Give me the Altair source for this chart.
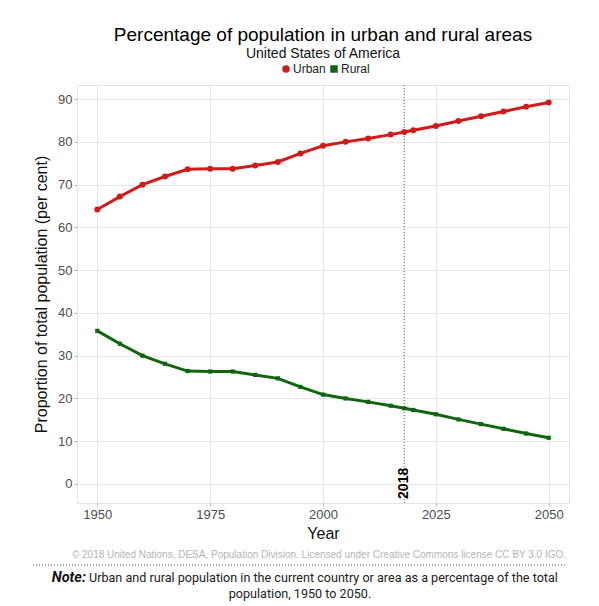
import altair as alt
import pandas as pd

years = [1950, 1955, 1960, 1965, 1970, 1975, 1980, 1985, 1990, 1995, 2000,
         2005, 2010, 2015, 2018, 2020, 2025, 2030, 2035, 2040, 2045, 2050]
urban = [64.2, 67.2, 70.0, 71.9, 73.6, 73.7, 73.7, 74.5, 75.3, 77.3, 79.1,
         80.0, 80.8, 81.7, 82.3, 82.7, 83.7, 84.9, 86.0, 87.1, 88.2, 89.2]
rural = [35.8, 32.8, 30.0, 28.1, 26.4, 26.3, 26.3, 25.5, 24.7, 22.7, 20.9,
         20.0, 19.2, 18.3, 17.7, 17.3, 16.3, 15.1, 14.0, 12.9, 11.8, 10.8]
series = ["Urban", "Rural"]
colors = ["#d11a1a", "#0f660f"]
x_ticks = [1950, 1975, 2000, 2025, 2050]
y_ticks = [0, 10, 20, 30, 40, 50, 60, 70, 80, 90]
mark_year = [2018]

rows = []
for y, u, r in zip(years, urban, rural):
    rows.append({"Year": y, "Value": u, "Series": "Urban", "Size": 36})
    rows.append({"Year": y, "Value": r, "Series": "Rural", "Size": 18})
df = pd.DataFrame(rows)

FONT = "Liberation Sans"
xscale = alt.Scale(domain=[1945.5, 2054.5], nice=False, zero=False)
yscale = alt.Scale(domain=[-4.45, 93.3], nice=False, zero=False)
cscale = alt.Scale(domain=series, range=colors)

legend = alt.Legend(title=None, orient="none", direction="horizontal",
                    legendX=203, legendY=-22, labelFontSize=12,
                    labelFont=FONT, labelColor="#222", symbolSize=36,
                    columnPadding=2, labelOffset=1)

base = alt.Chart(df)
x = alt.X("Year:Q", scale=xscale,
          axis=alt.Axis(values=x_ticks, format="d", title="Year", titleFontSize=16,
                        titleFontWeight="normal", titleColor="#111", titlePadding=4))
y = alt.Y("Value:Q", scale=yscale,
          axis=alt.Axis(values=y_ticks, title="Proportion of total population (per cent)",
                        titleFontSize=16, titleFontWeight="normal", titleColor="#111",
                        titlePadding=8))

lines = base.mark_line(strokeWidth=3).encode(
    x=x, y=y, color=alt.Color("Series:N", scale=cscale, legend=legend), detail="Series:N")
pts = base.mark_point(filled=True, opacity=1).encode(
    x=alt.X("Year:Q", scale=xscale), y=alt.Y("Value:Q", scale=yscale),
    color=alt.Color("Series:N", scale=cscale, legend=legend),
    shape=alt.Shape("Series:N", scale=alt.Scale(domain=series, range=["circle", "square"]), legend=legend),
    size=alt.Size("Size:Q", scale=None, legend=None),
)

mdf = pd.DataFrame({"Year": mark_year, "lab": [str(v) for v in mark_year], "pos": [-3.5]})
vrule = alt.Chart(mdf).mark_rule(color="#555", strokeDash=[1, 2], strokeWidth=1).encode(
    x=alt.X("Year:Q", scale=xscale))
vtext = alt.Chart(mdf).mark_text(angle=270, align="left", baseline="middle", fontSize=14,
                                 fontWeight="bold", font=FONT, color="#000").encode(
    x=alt.X("Year:Q", scale=xscale), y=alt.Y("pos:Q", scale=yscale), text="lab:N")

copyright = alt.Chart(pd.DataFrame({"t": ["\u00a9 2018 United Nations, DESA, Population Division. Licensed under Creative Commons license CC BY 3.0 IGO."]})).mark_text(
    align="right", baseline="middle", fontSize=10, font=FONT, color="#b5b5b5").encode(
    x=alt.value(489), y=alt.value(470), text="t:N")
dotline = alt.Chart(pd.DataFrame({"a": [0]})).mark_rule(color="#555", strokeDash=[1, 2], strokeWidth=1).encode(
    x=alt.value(-44), x2=alt.value(489), y=alt.value(480))
note_b = alt.Chart(pd.DataFrame({"t": ["Note:"]})).mark_text(
    align="right", baseline="middle", fontSize=14.5, font="Roboto", fontWeight="bold",
    fontStyle="italic", color="#111").encode(x=alt.value(9), y=alt.value(493), text="t:N")
note_1 = alt.Chart(pd.DataFrame({"t": ["Urban and rural population in the current country or area as a percentage of the total"]})).mark_text(
    align="left", baseline="middle", fontSize=12.6, font="Roboto", color="#222").encode(
    x=alt.value(12), y=alt.value(493), text="t:N")
note_2 = alt.Chart(pd.DataFrame({"t": ["population, 1950 to 2050."]})).mark_text(
    align="center", baseline="middle", fontSize=12.6, font="Roboto", color="#222").encode(
    x=alt.value(223), y=alt.value(509), text="t:N")

chart = alt.layer(vrule, lines, pts, vtext, copyright, dotline, note_b, note_1, note_2).properties(
    width=492, height=418,
    title=alt.TitleParams(text="Percentage of population in urban and rural areas",
                          subtitle="United States of America", anchor="middle",
                          fontSize=19, font=FONT, fontWeight="normal", color="#000",
                          subtitleFontSize=14, subtitleFont=FONT, subtitleColor="#111",
                          subtitlePadding=2, offset=2),
    autosize=alt.AutoSizeParams(type="none"),
    padding={"left": 69, "top": 77, "right": 22, "bottom": 100},
).configure_view(stroke="#e3e3e3", strokeWidth=1).configure_axis(
    labelFont=FONT, titleFont=FONT, labelFontSize=13, labelColor="#4d4d4d",
    gridColor="#e6e6e6", gridWidth=1, domain=False, tickColor="#bbb", tickSize=3,
    labelPadding=2)

chart.save("out.html", embed_options={"renderer": "svg", "actions": False})
